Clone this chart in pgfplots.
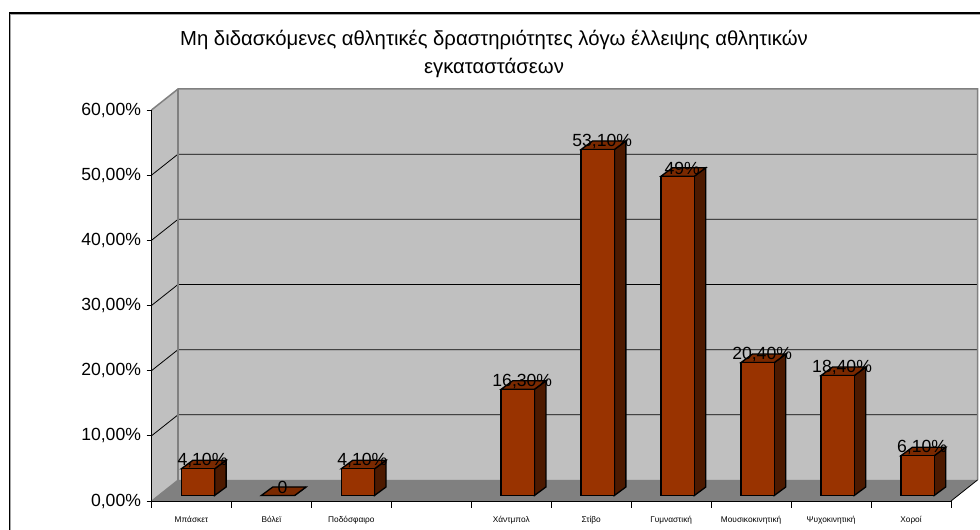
\documentclass[border=0pt]{standalone}
\usepackage{fontspec}
\setmainfont{Liberation Sans}
\usepackage{pgfplots}
\pgfplotsset{compat=1.18}
\usepackage{pgfplotstable}
\definecolor{barfront}{HTML}{993300}
\definecolor{bartop}{HTML}{7A2900}
\definecolor{barside}{HTML}{4D1A00}
\definecolor{wall}{HTML}{C0C0C0}
\definecolor{floorc}{HTML}{808080}
\pgfplotstableread{
x    v    lab
0.5  4.1  {4,10\%}
1.5  0    {0}
2.5  4.1  {4,10\%}
4.5  16.3 {16,30\%}
5.5  53.1 {53,10\%}
6.5  49   {49\%}
7.5  20.4 {20,40\%}
8.5  18.4 {18,40\%}
9.5  6.1  {6,10\%}
}\bars
\pgfdeclareplotmark{prism}{%
  \pgfmathsetlengthmacro\fb{5.5pt-\hpx pt}%
  \pgfmathsetlengthmacro\bb{14pt-\hpx pt}%
  \pgfsetlinewidth{1.3pt}\pgfsetstrokecolor{black}%
  \pgfsetfillcolor{barside}%
  \pgfpathmoveto{\pgfpoint{23.15pt}{5.5pt}}%
  \pgfpathlineto{\pgfpoint{34.65pt}{14pt}}%
  \pgfpathlineto{\pgfpoint{34.65pt}{\bb}}%
  \pgfpathlineto{\pgfpoint{23.15pt}{\fb}}%
  \pgfpathclose\pgfusepath{fill,stroke}%
  \pgfsetfillcolor{bartop}%
  \pgfpathmoveto{\pgfpoint{-10.15pt}{5.5pt}}%
  \pgfpathlineto{\pgfpoint{23.15pt}{5.5pt}}%
  \pgfpathlineto{\pgfpoint{34.65pt}{14pt}}%
  \pgfpathlineto{\pgfpoint{1.35pt}{14pt}}%
  \pgfpathclose\pgfusepath{fill,stroke}%
  \pgfsetfillcolor{barfront}%
  \pgfpathrectangle{\pgfpoint{-10.15pt}{\fb}}{\pgfpoint{33.3pt}{\hpx pt}}%
  \pgfusepath{fill,stroke}%
}
\begin{document}
\begin{tikzpicture}[x=1pt,y=1pt]
\useasboundingbox (0,0) rectangle (980,530);
\fill[white] (0,0) rectangle (980,530);
% chart frame
\draw[black,line width=1.3pt] (9.5,-5) -- (9.5,517) -- (985,517);
\draw[floorc!70,line width=0.5pt] (10.5,-5) -- (10.5,516) -- (985,516);
% walls and floor
\fill[wall] (178,50) rectangle (977.5,441);
\fill[wall] (151.5,29) -- (178,50) -- (178,441) -- (151.5,420) -- cycle;
\fill[floorc] (151.5,29) -- (951,29) -- (977.5,50) -- (178,50) -- cycle;
% grid
\foreach \v in {65.17,130.33,195.5,260.67,325.83}{
  \draw[black,line width=0.8pt] (151.5,29+\v) -- (178,50+\v) -- (977.5,50+\v);
}
\draw[floorc,line width=1.5pt] (151.5,420) -- (178,441) -- (977.5,441) -- (977.5,50);
\draw[floorc,line width=1.3pt] (178,50) -- (178,441);
\draw[floorc,line width=1pt] (151.5,29) -- (178,50);
\draw[black,line width=0.8pt] (951,29) -- (977.5,50);
\node[align=center,font=\fontsize{20.3}{28}\selectfont] at (494,476)
 {Μη διδασκόμενες αθλητικές δραστηριότητες λόγω έλλειψης αθλητικών\\εγκαταστάσεων};
\begin{axis}[
  at={(151.5pt,29pt)},anchor=origin,
  scale only axis,width=799.5pt,height=391pt,
  xmin=0,xmax=10,ymin=0,ymax=60,clip=false,
  axis x line=bottom,axis y line=left,
  axis line style={black,line width=0.8pt,-},
  xtick={0.5,1.5,...,9.5},
  xticklabels={Μπάσκετ,Βόλεϊ,Ποδόσφαιρο,,Χάντμπολ,Στίβο,Γυμναστική,Μουσικοκινητική,Ψυχοκινητική,Χοροί},
  major x tick style={draw=none},
  minor xtick={0,1,...,10},
  minor tick length=7pt,
  tick align=outside,
  x tick label style={font=\fontsize{8.3}{9}\selectfont,yshift=-7pt,text height=6pt,text depth=1.5pt},
  ytick={0,10,...,60},
  yticklabels={0{,}00\%,10{,}00\%,20{,}00\%,30{,}00\%,40{,}00\%,50{,}00\%,60{,}00\%},
  major tick length=5pt,
  y tick label style={font=\fontsize{17.6}{20}\selectfont,xshift=-2pt},
  tick style={black,line width=0.8pt},
]
\addplot[only marks,mark=prism,
  visualization depends on={rawy*6.5167 \as \hpx},
] table[x=x,y=v] {\bars};
\addplot[draw=none,mark=none,
  point meta=explicit symbolic,
  nodes near coords,
  every node near coord/.style={anchor=center,xshift=11pt,yshift=13.5pt,inner sep=0pt,
     font=\fontsize{17.6}{20}\selectfont,text=black},
] table[x=x,y=v,meta=lab] {\bars};
\end{axis}
\end{tikzpicture}
\end{document}
